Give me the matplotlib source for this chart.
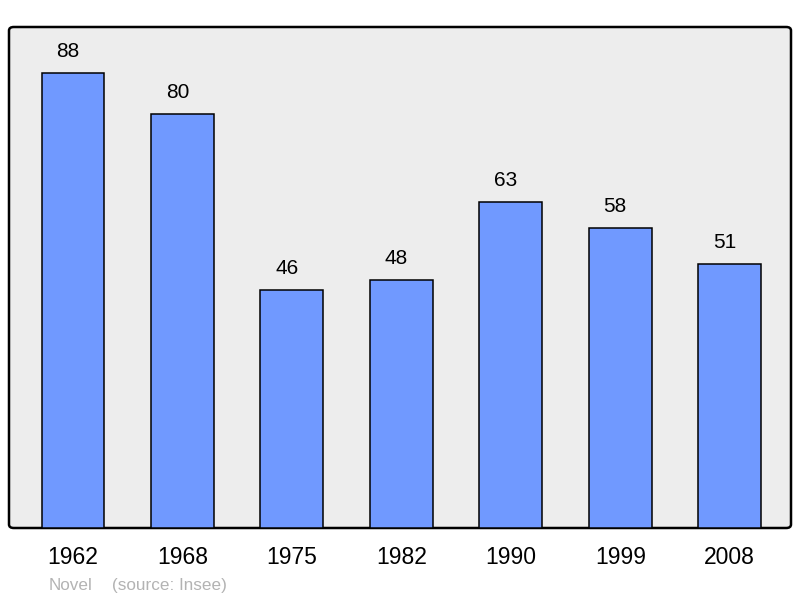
import matplotlib.pyplot as plt
from matplotlib.patches import FancyBboxPatch

plt.rcParams['font.family'] = ['Liberation Sans', 'DejaVu Sans']

years = ['1962', '1968', '1975', '1982', '1990', '1999', '2008']
population = [88, 80, 46, 48, 63, 58, 51]

W, H = 800, 598
fig = plt.figure(figsize=(W / 100, H / 100), dpi=100)

# axes area in pixels: x 9..791, y 27..528
ax = fig.add_axes([9 / W, 1 - 528 / H, 782 / W, 501 / H])
ax.set_facecolor('none')
ax.set_zorder(1)
for s in ax.spines.values():
    s.set_visible(False)

frame = FancyBboxPatch((9 / W, 1 - 528 / H), 782 / W, 501 / H,
                       boxstyle='round,pad=0,rounding_size=0.006',
                       transform=fig.transFigure, facecolor='#ededed',
                       edgecolor='black', linewidth=1.8, zorder=-1)
fig.patches.append(frame)

x = range(len(years))
bars = ax.bar(x, population, width=0.575, color='#7099ff',
              edgecolor='black', linewidth=1.1, zorder=2)
# value labels sit a little left of the bar centre, as in the original
for xi, v in zip(x, population):
    ax.annotate(str(v), (xi, v), xytext=(-5, 12), textcoords='offset pixels',
                ha='center', va='bottom', fontsize=15)

ax.set_xlim(-0.585, 6.56)
ax.set_ylim(0, 96.9)
ax.set_yticks([])
ax.set_xticks(list(x))
ax.set_xticklabels(years, fontsize=16.5)
ax.tick_params(axis='x', length=0, pad=13)

fig.text(49 / W, 1 - 590 / H, 'Novel', color='#b3b3b3', fontsize=12.3,
         ha='left', va='baseline')
fig.text(112 / W, 1 - 590 / H, '(source: Insee)', color='#b3b3b3',
         fontsize=12.3, ha='left', va='baseline')

fig.savefig('out.png', dpi=100)
